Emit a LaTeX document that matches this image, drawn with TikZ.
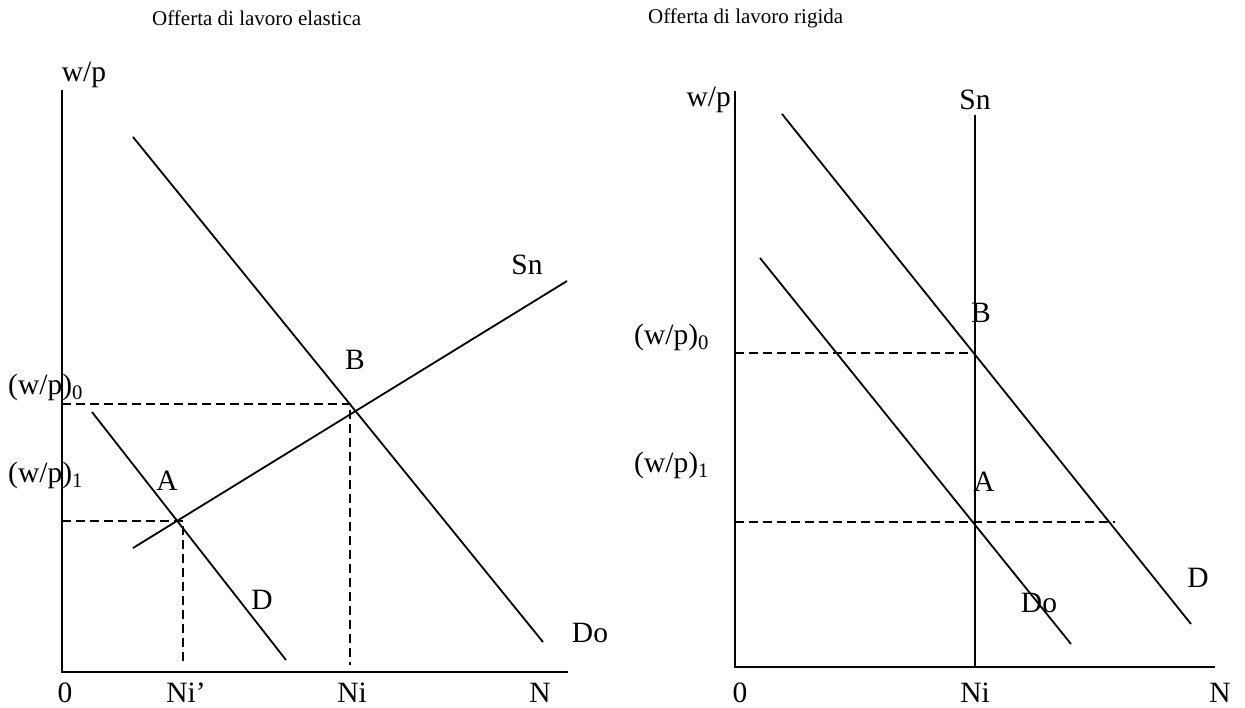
\documentclass[tikz,border=0pt]{standalone}
\usepackage{fontspec}
\setmainfont{Liberation Serif}
\begin{document}
\begin{tikzpicture}[x=1pt,y=-1pt,
  ax/.style={line width=2.3pt},
  crv/.style={line width=1.8pt},
  dsh/.style={line width=1.7pt,dash pattern=on 9pt off 5pt},
  lbl/.style={font=\fontsize{29.5}{32}\selectfont,inner sep=0pt},
  ttl/.style={font=\fontsize{21}{24}\selectfont,inner sep=0pt}]
\useasboundingbox (0,0) rectangle (1245,707);
% ---------- left chart ----------
\node[ttl,anchor=west] (t1) at (152,18) {Offerta di lavoro elastica};
\coordinate (Ltop) at (62,90);
\coordinate (Lo) at (62,672);
\coordinate (Lx) at (568,672);
\draw[ax] (Ltop) -- (Lo) -- (Lx);
\coordinate (Do1) at (133,137); \coordinate (Do2) at (543,642);
\coordinate (Sn1) at (133,548); \coordinate (Sn2) at (567,281);
\coordinate (D1) at (92,412);  \coordinate (D2) at (286,660);
\draw[crv] (Do1) -- (Do2);
\draw[crv] (Sn1) -- (Sn2);
\draw[crv] (D1) -- (D2);
\coordinate (B0y) at (62,404); \coordinate (Bp) at (350,404); \coordinate (Bx) at (350,665);
\draw[dsh] (B0y) -- (Bp) -- (Bx);
\coordinate (A0y) at (62,521); \coordinate (Ap) at (183,521); \coordinate (Ax) at (183,665);
\draw[dsh] (A0y) -- (Ap) -- (Ax);
\node[lbl] (lwp) at (84,75) {w/p};
\node[lbl,anchor=west] (lw0) at (8,387) {(w/p)\textsubscript{0}};
\node[lbl,anchor=west] (lw1) at (8,475) {(w/p)\textsubscript{1}};
\node[lbl] (lA) at (167,481) {A};
\node[lbl] (lB) at (355,360) {B};
\node[lbl] (lSn) at (527,265) {Sn};
\node[lbl] (lD) at (262,600) {D};
\node[lbl] (lDo) at (590,633) {Do};
\node[lbl,anchor=base] (l0) at (65,702) {0};
\node[lbl,anchor=base] (lNip) at (186,702) {Ni’};
\node[lbl,anchor=base] (lNi) at (352,702) {Ni};
\node[lbl,anchor=base] (lN) at (540,702) {N};
% ---------- right chart ----------
\node[ttl,anchor=west] (t2) at (648,18) {Offerta di lavoro rigida};
\coordinate (Rtop) at (735,91);
\coordinate (Ro) at (735,667);
\coordinate (Rx) at (1215,667);
\draw[ax] (Rtop) -- (Ro) -- (Rx);
\coordinate (S1) at (975,115); \coordinate (S2) at (975,667);
\draw[crv] (S1) -- (S2);
\coordinate (RD1) at (782,114); \coordinate (RD2) at (1191,624);
\coordinate (RDo1) at (760,258); \coordinate (RDo2) at (1071,644);
\draw[crv] (RD1) -- (RD2);
\draw[crv] (RDo1) -- (RDo2);
\coordinate (RB0) at (735,353); \coordinate (RBp) at (975,353);
\draw[dsh] (RB0) -- (RBp);
\coordinate (RA0) at (735,522); \coordinate (RAp) at (1115,522);
\draw[dsh] (RA0) -- (RAp);
\node[lbl,anchor=east] (rwp) at (731,100) {w/p};
\node[lbl] (rSn) at (975,100) {Sn};
\node[lbl] (rB) at (981,313) {B};
\node[lbl,anchor=west] (rw0) at (634,337) {(w/p)\textsubscript{0}};
\node[lbl,anchor=west] (rw1) at (634,465) {(w/p)\textsubscript{1}};
\node[lbl] (rA) at (984,482) {A};
\node[lbl] (rDo) at (1039,603) {Do};
\node[lbl] (rD) at (1198,578) {D};
\node[lbl,anchor=base] (r0) at (740,702) {0};
\node[lbl,anchor=base] (rNi) at (975,702) {Ni};
\node[lbl,anchor=base] (rN) at (1220,702) {N};
\end{tikzpicture}
\end{document}
